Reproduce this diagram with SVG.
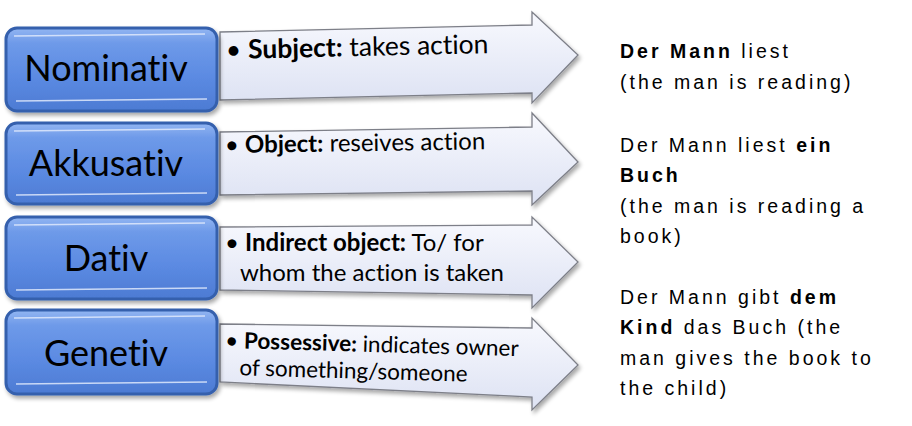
<svg xmlns="http://www.w3.org/2000/svg" width="912" height="426" viewBox="0 0 912 426">
<style>
text{font-variant-ligatures:none;font-feature-settings:"liga" 0}
.case{font-family:Lato,"Open Sans","Liberation Sans",sans-serif;font-size:36px;fill:#000;text-anchor:middle}
.desc{font-family:Lato,"Open Sans","Liberation Sans",sans-serif;font-size:24px;fill:#000}
.b{font-weight:bold}
.ex{font-family:"Liberation Sans",Arial,sans-serif;font-size:19.5px;fill:#000;letter-spacing:3px}
.box{fill:url(#blueFill);stroke:#3560ad;stroke-width:3}
.hl{fill:none;stroke:#dfe9fb;stroke-width:1.6;stroke-opacity:0.85}
.arrow{fill:url(#arrowFill);stroke:#7d7f88;stroke-width:1.3;stroke-linejoin:miter}
</style>
<defs>
<linearGradient id="blueFill" x1="0" y1="0" x2="0" y2="1">
<stop offset="0" stop-color="#93b6f2"/>
<stop offset="0.18" stop-color="#6e9ae9"/>
<stop offset="0.6" stop-color="#5b8ae2"/>
<stop offset="1" stop-color="#4d7bd3"/>
</linearGradient>
<linearGradient id="arrowFill" x1="0" y1="0" x2="0" y2="1">
<stop offset="0" stop-color="#f8f9fe"/>
<stop offset="1" stop-color="#dde2f3"/>
</linearGradient>
<filter id="sh" x="-10%" y="-20%" width="120%" height="150%">
<feGaussianBlur in="SourceAlpha" stdDeviation="2"/>
<feOffset dx="2" dy="3" result="o"/>
<feComponentTransfer><feFuncA type="linear" slope="0.35"/></feComponentTransfer>
<feMerge><feMergeNode/><feMergeNode in="SourceGraphic"/></feMerge>
</filter>
</defs>

<g id="connectors">
<path class="arrow" filter="url(#sh)" d="M220,32 L532,25 L532,12 L578,55 L532,103 L532,93 L220,100 Z"/>
<path class="arrow" filter="url(#sh)" d="M220,132 L532,127 L532,113 L578,162 L532,205 L532,191 L220,195 Z"/>
<path class="arrow" filter="url(#sh)" d="M220,227 L532,225 L532,217 L578,262 L532,308 L532,295 L220,290 Z"/>
<path class="arrow" filter="url(#sh)" d="M220,324 L532,328 L532,318 L578,365 L532,410 L532,397 L220,382 Z"/>
</g>

<g id="nominativ">
<rect class="box" filter="url(#sh)" x="6" y="28" width="211" height="83" rx="11"/>
<path class="hl" d="M16,101 L207,99"/>
<path class="hl" d="M14,36 L205,34" stroke-opacity="0.5"/>
<text class="case" x="106" y="81">Nominativ</text>
</g>
<g id="nominativ-desc">
<text class="desc" style="font-size:26.5px" transform="rotate(-1.3 228 59)" x="226" y="59">•  <tspan class="b">Subject:</tspan> takes action</text>
</g>

<g id="akkusativ">
<rect class="box" filter="url(#sh)" x="6" y="123" width="211" height="81" rx="11"/>
<path class="hl" d="M16,195 L207,193"/>
<path class="hl" d="M14,131 L205,129" stroke-opacity="0.5"/>
<text class="case" x="106" y="176">Akkusativ</text>
</g>
<g id="akkusativ-desc">
<text class="desc" transform="rotate(-0.8 228 153)" x="225" y="153">• <tspan class="b">Object:</tspan> reseives action</text>
</g>

<g id="dativ">
<rect class="box" filter="url(#sh)" x="6" y="217" width="211" height="82" rx="11"/>
<path class="hl" d="M16,290 L207,288"/>
<path class="hl" d="M14,225 L205,223" stroke-opacity="0.5"/>
<text class="case" x="106" y="271">Dativ</text>
</g>
<g id="dativ-desc">
<text class="desc" x="225" y="251">• <tspan class="b">Indirect object:</tspan> To/ for</text>
<text class="desc" x="240" y="281">whom the action is taken</text>
</g>

<g id="genetiv">
<rect class="box" filter="url(#sh)" x="6" y="310" width="211" height="84" rx="11"/>
<path class="hl" d="M16,384 L207,382"/>
<path class="hl" d="M14,318 L205,316" stroke-opacity="0.5"/>
<text class="case" x="106" y="366">Genetiv</text>
</g>
<g id="genetiv-desc">
<g transform="rotate(1.6 228 348)">
<text class="desc" style="font-size:22.5px" x="225" y="348">• <tspan class="b">Possessive:</tspan> indicates owner</text>
<text class="desc" style="font-size:22.5px" x="240" y="375">of something/someone</text>
</g>
</g>

<g id="examples">
<text class="ex" x="620" y="58"><tspan class="b">Der Mann</tspan> liest</text>
<text class="ex" x="620" y="89">(the man is reading)</text>
<text class="ex" x="620" y="152">Der Mann liest <tspan class="b">ein</tspan></text>
<text class="ex b" x="620" y="182">Buch</text>
<text class="ex" x="620" y="213">(the man is reading a</text>
<text class="ex" x="620" y="243">book)</text>
<text class="ex" x="620" y="304">Der Mann gibt <tspan class="b">dem</tspan></text>
<text class="ex" x="620" y="334"><tspan class="b">Kind</tspan> das Buch (the</text>
<text class="ex" x="620" y="365">man gives the book to</text>
<text class="ex" x="620" y="395">the child)</text>
</g>
</svg>
